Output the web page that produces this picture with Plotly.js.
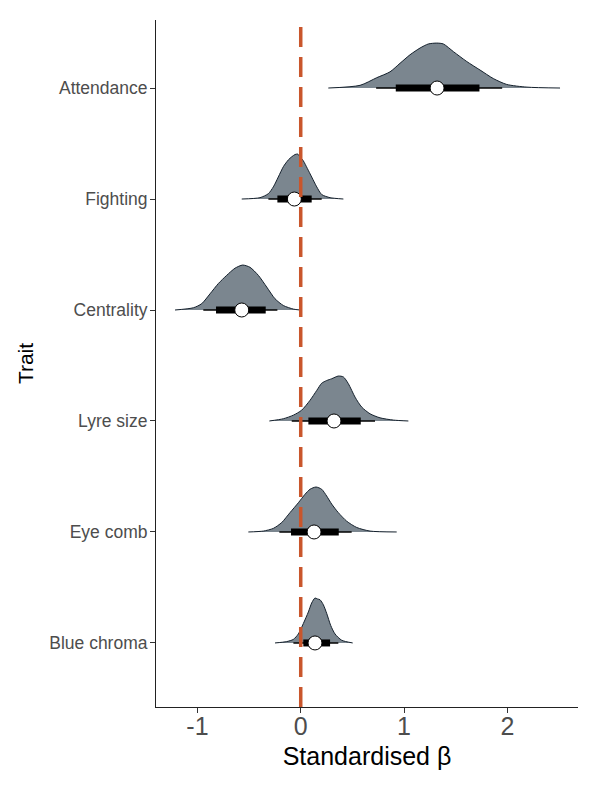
<!DOCTYPE html>
<html>
<head>
<meta charset="utf-8">
<script src="https://cdn.plot.ly/plotly-3.0.1.min.js"></script>
<style>html,body{margin:0;padding:0;background:#fff;}#chart{width:600px;height:800px;}</style>
</head>
<body>
<div id="chart"></div>
<script>
// Traits, top to bottom
const traits = ["Attendance", "Fighting", "Centrality", "Lyre size", "Eye comb", "Blue chroma"];

// Point summaries (median, 66% and 95% intervals)
const medians = [1.32, -0.062, -0.571, 0.322, 0.129, 0.138];
const lo66 = [0.92, -0.226, -0.82, 0.074, -0.094, 0.025];
const hi66 = [1.73, 0.106, -0.339, 0.581, 0.368, 0.284];
const lo95 = [0.73, -0.313, -0.943, -0.087, -0.207, -0.071];
const hi95 = [1.95, 0.203, -0.226, 0.719, 0.493, 0.364];

// Posterior densities (x values and relative density heights)
const densX_Attendance = [0.267, 0.574, 0.736, 0.864, 0.961, 1.058, 1.155, 1.235, 1.317, 1.381, 1.478, 1.607, 1.736, 1.865, 1.994, 2.19, 2.51];
const densH_Attendance = [0, 0.06, 0.23, 0.36, 0.55, 0.74, 0.89, 0.98, 1.0, 0.98, 0.81, 0.59, 0.40, 0.21, 0.08, 0.02, 0];

const densX_Fighting = [-0.571, -0.394, -0.313, -0.265, -0.217, -0.168, -0.120, -0.087, -0.055, -0.029, -0.007, 0.025, 0.064, 0.106, 0.155, 0.203, 0.284, 0.413];
const densH_Fighting = [0, 0.03, 0.12, 0.27, 0.49, 0.72, 0.87, 0.94, 0.99, 1.0, 0.94, 0.85, 0.68, 0.49, 0.27, 0.10, 0.03, 0];

const densX_Centrality = [-1.217, -1.039, -0.959, -0.878, -0.797, -0.717, -0.636, -0.562, -0.491, -0.410, -0.329, -0.249, -0.168, -0.071, -0.007];
const densH_Centrality = [0, 0.05, 0.14, 0.36, 0.59, 0.77, 0.93, 1.0, 0.95, 0.77, 0.51, 0.25, 0.10, 0.02, 0];

const densX_Lyre = [-0.304, -0.168, -0.071, 0.009, 0.090, 0.155, 0.203, 0.251, 0.300, 0.364, 0.413, 0.461, 0.526, 0.590, 0.671, 0.768, 0.897, 1.042];
const densH_Lyre = [0, 0.05, 0.13, 0.24, 0.46, 0.68, 0.84, 0.90, 0.94, 1.0, 0.98, 0.83, 0.53, 0.31, 0.16, 0.07, 0.02, 0];

const densX_EyeComb = [-0.507, -0.362, -0.265, -0.184, -0.104, -0.023, 0.042, 0.090, 0.148, 0.203, 0.251, 0.300, 0.364, 0.445, 0.542, 0.671, 0.929];
const densH_EyeComb = [0, 0.02, 0.08, 0.21, 0.43, 0.65, 0.84, 0.95, 1.0, 0.95, 0.80, 0.62, 0.43, 0.24, 0.10, 0.02, 0];

const densX_BlueChroma = [-0.249, -0.136, -0.071, -0.023, 0.025, 0.074, 0.106, 0.138, 0.161, 0.187, 0.219, 0.251, 0.290, 0.332, 0.397, 0.503];
const densH_BlueChroma = [0, 0.03, 0.08, 0.20, 0.43, 0.69, 0.89, 1.0, 0.98, 0.96, 0.85, 0.66, 0.39, 0.20, 0.06, 0];

const densX = [densX_Attendance, densX_Fighting, densX_Centrality, densX_Lyre, densX_EyeComb, densX_BlueChroma];
const densH = [densH_Attendance, densH_Fighting, densH_Centrality, densH_Lyre, densH_EyeComb, densH_BlueChroma];

const xTickVals = [-1, 0, 1, 2];
const referenceValue = 0;

// Styling
const DENS_SCALE = 0.405;
const FILL = "#7b868f";
const OUTLINE = "#14202c";
const FONT = "Liberation Sans, Arial, sans-serif";

const n = traits.length;
const traces = [];
traits.forEach((t, i) => {
  const yPos = n - i;
  traces.push({
    type: "scatter", mode: "lines",
    x: densX[i], y: densH[i].map(h => yPos + h * DENS_SCALE),
    fill: "toself", fillcolor: FILL,
    line: {color: OUTLINE, width: 1, shape: "spline", smoothing: 0.7},
    hoverinfo: "skip", showlegend: false
  });
});
traits.forEach((t, i) => {
  const yPos = n - i;
  traces.push({
    type: "scatter", mode: "lines",
    x: [lo95[i], hi95[i]], y: [yPos, yPos],
    line: {color: "#000", width: 1.6},
    hoverinfo: "skip", showlegend: false
  });
  traces.push({
    type: "scatter", mode: "lines",
    x: [lo66[i], hi66[i]], y: [yPos, yPos],
    line: {color: "#000", width: 7},
    hoverinfo: "skip", showlegend: false
  });
});
traces.push({
  type: "scatter", mode: "markers",
  x: medians, y: traits.map((t, i) => n - i),
  marker: {size: 14, color: "#ffffff", line: {color: "#000", width: 1}},
  hoverinfo: "skip", showlegend: false
});

const layout = {
  width: 600, height: 800,
  margin: {l: 156, r: 22, t: 20, b: 93},
  paper_bgcolor: "#fff", plot_bgcolor: "#fff",
  font: {family: FONT},
  showlegend: false,
  xaxis: {
    range: [-1.401, 2.684],
    tickvals: xTickVals,
    ticktext: xTickVals.map(v => v < 0 ? "-" + Math.abs(v) : String(v)),
    showgrid: false, zeroline: false,
    showline: true, linecolor: "#222", linewidth: 1,
    ticks: "outside", ticklen: 5, tickcolor: "#333", tickwidth: 1,
    ticklabelstandoff: -8,
    tickfont: {size: 25, color: "#4d4d4d", family: FONT},
    title: {text: "Standardised β", font: {size: 25, color: "#000", family: FONT}, standoff: 8},
    automargin: false
  },
  yaxis: {
    range: [0.423, 6.613],
    tickvals: traits.map((t, i) => n - i),
    ticktext: traits,
    showgrid: false, zeroline: false,
    showline: true, linecolor: "#222", linewidth: 1,
    ticks: "outside", ticklen: 5, tickcolor: "#333", tickwidth: 1,
    ticklabelstandoff: -1,
    tickfont: {size: 17.5, color: "#4d4d4d", family: FONT},
    title: {text: "Trait", font: {size: 21, color: "#000", family: FONT}, standoff: 9},
    automargin: false
  },
  shapes: [{
    type: "line", xref: "x", yref: "paper",
    x0: referenceValue, x1: referenceValue, y0: 0, y1: 1,
    line: {color: "#c9562c", width: 3.5, dash: "20px,10px"},
    layer: "above"
  }]
};

Plotly.newPlot("chart", traces, layout, {displayModeBar: false, staticPlot: true});
</script>
</body>
</html>
